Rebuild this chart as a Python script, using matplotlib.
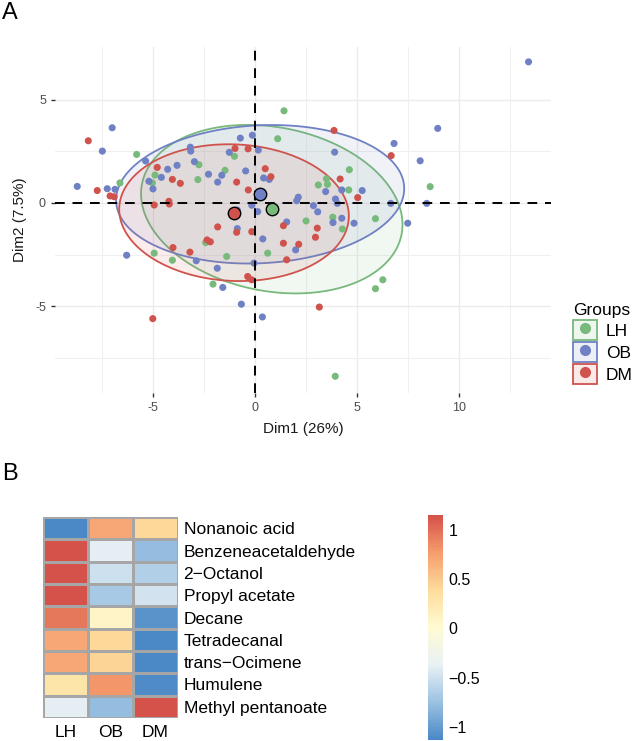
import numpy as np
import matplotlib
matplotlib.use("Agg")
import matplotlib.pyplot as plt
from matplotlib.patches import Patch, Polygon
from matplotlib.lines import Line2D
from matplotlib.colors import LinearSegmentedColormap, to_rgba
from matplotlib.legend_handler import HandlerTuple

plt.rcParams['font.family'] = ['Liberation Sans', 'DejaVu Sans']
plt.rcParams['axes.unicode_minus'] = False

# ---- panel A: PCA scores ----
lh_x = [-5.8, -2.75, -4.9, -5.03, -6.62, -2.8, -1.47, -1.01, 1.42, 8.58, 1.11, 4.62, 3.5, 3.1,
        3.55, 4.59, 2.5, 3.81, 4.28, 5.9, 6.26, 5.9, 0.62, -2.42, -4.94, -4.05, -1.39, -2.06, 3.93]
lh_y = [2.35, 1.85, 1.35, 0.97, 0.97, 1.13, 1.58, 2.26, 4.46, 0.79, 3.11, 1.61, 1.17, 0.87,
        0.9, 0.63, -0.87, -0.69, -1.26, -0.76, -3.72, -4.15, -2.43, -1.92, -2.43, -2.77, -2.59, -3.93, -8.39]

ob_x = [-7.0, -7.48, -5.36, -3.17, -3.15, -2.97, -3.82, -4.28, -5.2, -4.59, -5.0, -8.71, -7.24, -6.86,
        -2.28, -1.83, -1.63, -1.26, -0.72, -0.13, -0.46, -0.16, 13.4, 8.95, 6.81, 8.09, 3.9, 0.16,
        0.42, 0.7, 4.25, 5.25, 3.46, 3.94, 2.12, 2.04, 2.86, 4.03, 6.65, 8.41, 0.13, 3.07, 7.48,
        4.85, 3.82, 4.25, 1.55, 0.38, 1.99, -0.05, 0.36, -0.87, -6.29, -2.88, -1.85, -1.58, -0.67, -0.87]
ob_y = [3.64, 2.51, 2.03, 2.7, 2.51, 2.0, 1.82, 1.63, 1.05, 1.24, 0.68, 0.8, 0.69, 0.66,
        1.39, 1.01, 1.34, 2.45, 3.14, 3.28, 1.55, -0.11, 6.83, 3.61, 2.88, 2.04, 2.46, 2.56,
        1.21, 1.14, 0.63, 0.6, 0.55, 0.19, 0.28, 0.11, -0.13, -0.02, -0.02, -0.02, -0.42, -0.43, -0.98,
        -0.98, -0.95, -0.74, -0.92, -1.74, -2.27, -2.91, -5.52, -1.24, -2.53, -2.8, -3.16, -4.09, -4.9, -0.34]

dm_x = [-8.17, -4.79, -4.05, -3.66, -7.73, -7.1, -6.9, -4.94, -4.22, -4.2, -0.98, -0.34, -0.9, -0.33,
        3.87, 6.67, 0.5, 0.78, 4.17, 5.03, 3.15, 3.05, 2.96, 1.39, 1.39, 2.14, 1.55, -0.16, -0.16,
        -1.83, -0.9, -2.35, -2.19, -4.02, -3.19, -0.36, -5.01]
dm_y = [3.01, 1.72, 1.14, 0.95, 0.6, 0.34, 0.3, -0.1, 0.08, -0.05, 2.64, 2.62, 1.01, 0.63,
        3.51, 2.29, 1.66, 1.27, 1.16, 0.26, -5.04, -1.22, -1.66, -1.1, -1.95, -2.0, -2.75, -3.72, -1.39,
        -1.16, -1.42, -1.79, -1.88, -2.16, -2.38, -3.56, -5.6]

groups = ['LH', 'OB', 'DM']
centroid_x = [0.82, 0.25, -1.03]
centroid_y = [-0.3, 0.42, -0.47]
colors = ['#78B97C', '#6F81C4', '#CF534C']
ellipse_level = 0.68

# ---- panel B: row-scaled heatmap ----
compounds = ['Nonanoic acid', 'Benzeneacetaldehyde', '2\u2212Octanol', 'Propyl acetate', 'Decane',
             'Tetradecanal', 'trans\u2212Ocimene', 'Humulene', 'Methyl pentanoate']
lh_z = [-1.13, 1.15, 1.13, 1.15, 0.95, 0.70, 0.70, 0.30, -0.38]
ob_z = [0.71, -0.38, -0.50, -0.68, 0.10, 0.42, 0.43, 0.80, -0.78]
dm_z = [0.42, -0.77, -0.63, -0.47, -1.05, -1.12, -1.13, -1.10, 1.15]

fig = plt.figure(figsize=(6.32, 7.41), dpi=100)
W, H = 632, 741

def box(l, t, r, b):
    return [l / W, 1 - b / H, (r - l) / W, (b - t) / H]

ax = fig.add_axes(box(55, 47, 551, 393))
ax.set_xlim(-9.8, 14.5)
ax.set_ylim(-9.2, 7.55)
for s in ax.spines.values():
    s.set_visible(False)
ax.set_xticks([-5, 0, 5, 10])
ax.set_yticks([-5, 0, 5])
ax.set_xticks([-7.5, -2.5, 2.5, 7.5, 12.5], minor=True)
ax.set_yticks([-7.5, -2.5, 2.5], minor=True)
ax.grid(True, which='major', color='#EBEBEB', lw=1.0)
ax.grid(True, which='minor', color='#F0F0F0', lw=0.8)
ax.set_axisbelow(True)
ax.tick_params(which='major', length=3, width=1, color='#333333', labelcolor='#4D4D4D', labelsize=9)
ax.tick_params(which='minor', length=0)

xs = [lh_x, ob_x, dm_x]
ys = [lh_y, ob_y, dm_y]
r = np.sqrt(-2 * np.log(1 - ellipse_level))
t = np.linspace(0, 2 * np.pi, 240)
for i in range(3):
    x = np.array(xs[i]); y = np.array(ys[i])
    cov = np.cov(x, y)
    vals, vecs = np.linalg.eigh(cov)
    circ = np.vstack([np.cos(t), np.sin(t)]) * (np.sqrt(vals)[:, None] * r)
    pts = (vecs @ circ).T + [centroid_x[i], centroid_y[i]]
    ax.add_patch(Polygon(pts, closed=True, facecolor=to_rgba(colors[i], 0.1),
                         edgecolor=colors[i], lw=1.3, zorder=2))

for i in range(3):
    ax.scatter(xs[i], ys[i], s=26, color=colors[i], edgecolors='none', zorder=3)

ax.axhline(0, color='black', ls=(0, (5, 4)), lw=1.4, zorder=4)
ax.axvline(0, color='black', ls=(0, (5, 4)), lw=1.4, zorder=4)

for i in range(3):
    ax.scatter(centroid_x[i], centroid_y[i], s=80, color=colors[i], edgecolors='black',
               linewidths=1.0, zorder=5)

ax.set_xlabel('Dim1 (26%)', fontsize=11, color='#1A1A1A', labelpad=6)
ax.set_ylabel('Dim2 (7.5%)', fontsize=11, color='#1A1A1A', labelpad=6)

handles = [(Patch(facecolor=to_rgba(c, 0.12), edgecolor=c, lw=1.3),
            Line2D([], [], marker='o', ls='', color=c, markersize=7)) for c in colors]
fig.legend(handles, groups, title='Groups', loc='upper left', bbox_to_anchor=(566 / W, 1 - 296 / H),
           frameon=False, fontsize=12.5, title_fontsize=12.5, alignment='left',
           handler_map={tuple: HandlerTuple(ndivide=1)}, handlelength=1.4, handleheight=1.4,
           labelspacing=0.12, handletextpad=0.5, borderaxespad=0)

fig.text(2 / W, 1 - 2 / H, 'A', fontsize=17, va='top', ha='left')
fig.text(2 / W, 1 - 463 / H, 'B', fontsize=17, va='top', ha='left')

# heatmap
palette = ['#4A89C5', '#9CC2E2', '#E9F1F4', '#FFFBD3', '#FDDC9C', '#F69E6E', '#D5524A']
cmap = LinearSegmentedColormap.from_list('rdylbu', palette, N=100)
Z = np.array([lh_z, ob_z, dm_z]).T
hax = fig.add_axes(box(43, 517, 178, 718))
mesh = hax.pcolormesh(Z, cmap=cmap, vmin=Z.min(), vmax=Z.max(), edgecolors='#A6A6A6', linewidth=0.9)
hax.set_xlim(0, 3)
hax.set_ylim(len(compounds), 0)
for s in hax.spines.values():
    s.set_visible(False)
hax.yaxis.tick_right()
hax.set_yticks(np.arange(len(compounds)) + 0.5)
hax.set_yticklabels(compounds)
hax.set_xticks(np.arange(3) + 0.5)
hax.set_xticklabels(groups)
hax.tick_params(length=0, labelsize=12.5, pad=4)
hax.tick_params(axis='x', pad=5)

cax = fig.add_axes(box(428, 515, 443, 740))
cb = fig.colorbar(mesh, cax=cax, ticks=[-1, -0.5, 0, 0.5, 1])
cb.outline.set_visible(False)
cb.ax.set_yticklabels(['\u22121', '\u22120.5', '0', '0.5', '1'])
cb.ax.tick_params(length=0, labelsize=11.5, pad=4)

fig.savefig('out.png', dpi=100)
